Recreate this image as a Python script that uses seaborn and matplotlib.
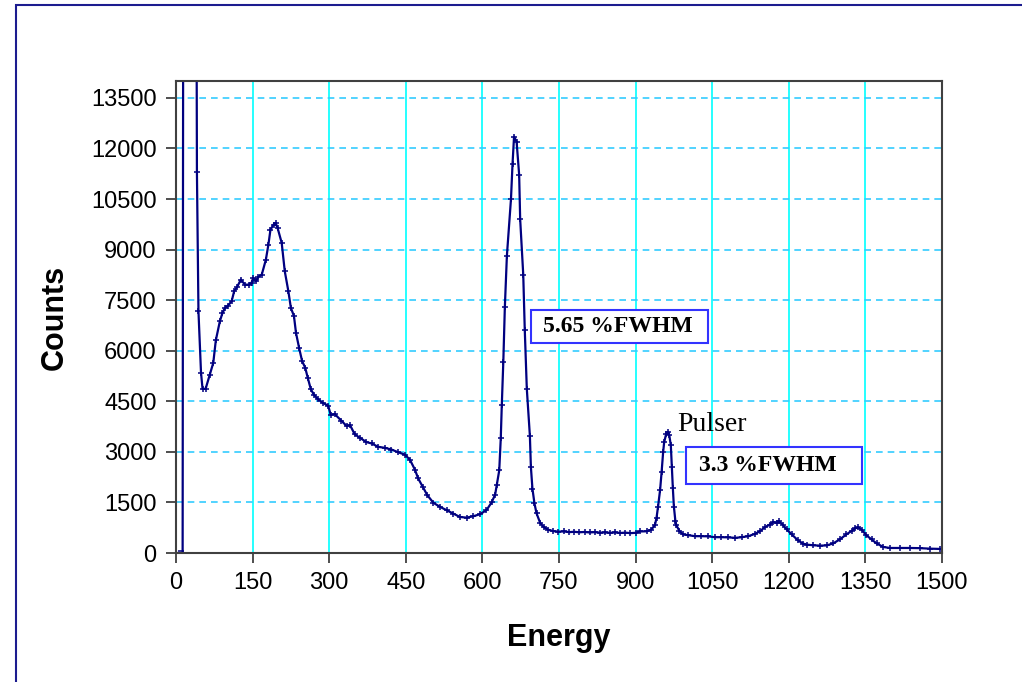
import matplotlib
matplotlib.use("Agg")
import matplotlib.pyplot as plt
import matplotlib.patches as patches
import seaborn as sns

sns.set_style("white")
plt.rcParams['font.family'] = ['Liberation Sans', 'DejaVu Sans']

# spectrum (energy, counts)
energy = [0, 5, 10, 13, 15, 38, 41, 44, 49, 52, 58, 66, 73, 78, 86, 91, 96, 102, 109, 114,
          120, 127, 135, 142, 148, 151, 157, 161, 168, 176, 181, 185, 191, 195, 199, 207, 213, 220, 225, 231,
          235, 241, 247, 253, 258, 264, 270, 278, 288, 298, 303, 311, 324, 334, 341, 350, 360, 373, 383, 396,
          409, 422, 435, 448, 458, 468, 474, 483, 492, 504, 517, 530, 543, 556, 569, 582, 595, 608, 618, 625,
          628, 633, 636, 638, 641, 644, 648, 656, 659, 662, 667, 672, 674, 680, 683, 687, 693, 695, 698, 702,
          706, 713, 720, 729, 739, 749, 760, 770, 780, 790, 800, 810, 820, 830, 840, 850, 860, 870, 880, 890,
          900, 909, 922, 931, 938, 941, 944, 948, 951, 954, 956, 960, 964, 966, 969, 971, 973, 975, 978, 980,
          986, 993, 1003, 1016, 1029, 1042, 1055, 1068, 1081, 1095, 1108, 1121, 1134, 1144, 1153, 1163, 1170, 1176, 1181, 1188,
          1196, 1206, 1218, 1228, 1235, 1248, 1261, 1274, 1287, 1300, 1313, 1323, 1330, 1336, 1343, 1352, 1362, 1372, 1385, 1398,
          1418, 1437, 1457, 1476, 1496, 1500]
counts = [0, 0, 0, 0, 30000, 30000, 11300, 7170, 5350, 4870, 4870, 5280, 5640, 6310, 6880, 7120, 7270, 7340, 7470, 7770,
          7900, 8110, 7960, 7960, 8010, 8160, 8060, 8190, 8260, 8700, 9150, 9590, 9740, 9790, 9640, 9200, 8360, 7770, 7270, 7030,
          6530, 6090, 5690, 5500, 5200, 4860, 4700, 4560, 4450, 4370, 4100, 4120, 3920, 3770, 3790, 3520, 3420, 3290, 3250, 3150,
          3120, 3070, 2990, 2920, 2770, 2470, 2220, 1970, 1720, 1490, 1370, 1270, 1170, 1070, 1050, 1090, 1150, 1270, 1500, 1735,
          2010, 2450, 3400, 4380, 5680, 7300, 8820, 10500, 11530, 12350, 12200, 11220, 9900, 8260, 6620, 4870, 3480, 2550, 1910, 1470,
          1180, 900, 770, 690, 650, 635, 640, 620, 630, 615, 625, 610, 620, 605, 610, 600, 610, 595, 605, 590,
          600, 640, 645, 695, 840, 1040, 1380, 1870, 2410, 3000, 3290, 3540, 3590, 3490, 3200, 2560, 1920, 1380, 940, 820,
          650, 550, 530, 500, 500, 495, 470, 470, 465, 450, 470, 500, 570, 650, 765, 845, 920, 890, 940, 845,
          700, 550, 375, 280, 250, 230, 220, 225, 285, 405, 555, 655, 735, 760, 690, 525, 405, 285, 180, 150,
          150, 150, 145, 130, 120, 120]

x_ticks = list(range(0, 1501, 150))
y_ticks = list(range(0, 13501, 1500))

fig = plt.figure(figsize=(10.22, 6.82), dpi=100)
ax = fig.add_axes([0.1722, 0.1891, 0.7495, 0.6921])

sns.lineplot(x=energy, y=counts, ax=ax, color='#000080', linewidth=1.6,
             marker='+', markersize=5, markeredgewidth=1.1, markeredgecolor='#000080')

ax.set_xlim(0, 1500)
ax.set_ylim(0, 14000)
ax.set_xticks(x_ticks)
ax.set_yticks(y_ticks)
ax.set_axisbelow(True)
ax.xaxis.grid(True, color='#00ffff', linestyle='-', linewidth=1.2)
ax.yaxis.grid(True, color='#33ccff', linestyle=(0, (4, 3)), linewidth=1.2)

for s in ax.spines.values():
    s.set_color('#404040')
    s.set_linewidth(1.5)
ax.tick_params(axis='both', direction='out', length=7, width=1.3, color='#404040',
               labelsize=17, labelcolor='black', pad=7, left=True, bottom=True)

ax.set_xlabel("Energy", fontsize=22, fontweight='bold', color='black')
ax.set_ylabel("Counts", fontsize=22, fontweight='bold', color='black')
ax.xaxis.set_label_coords(0.5, -0.148)
ax.yaxis.set_label_coords(-0.139, 0.5)

# annotation boxes
serif = ['Liberation Serif', 'DejaVu Serif']
box1 = patches.Rectangle((695, 6230), 347, 980, facecolor='white', edgecolor='#3333ff', linewidth=1.5, zorder=4)
ax.add_patch(box1)
ax.text(866, 6720, "5.65 %FWHM", ha='center', va='center', fontsize=17, fontweight='bold',
        family=serif, color='black', zorder=5)
box2 = patches.Rectangle((999, 2050), 344, 1095, facecolor='white', edgecolor='#3333ff', linewidth=1.5, zorder=4)
ax.add_patch(box2)
ax.text(1159, 2600, "3.3 %FWHM", ha='center', va='center', fontsize=17, fontweight='bold',
        family=serif, color='black', zorder=5)
ax.text(982, 3800, "Pulser", ha='left', va='center', fontsize=20, family=serif, color='black', zorder=5)

# outer frame of the original chart
frame = patches.Rectangle((16 / 1022, -0.05), 1.1, 1 - 5 / 682 + 0.05, transform=fig.transFigure,
                          fill=False, edgecolor='#1c1c8f', linewidth=1.5)
fig.add_artist(frame)

fig.savefig("out.png", dpi=100)
